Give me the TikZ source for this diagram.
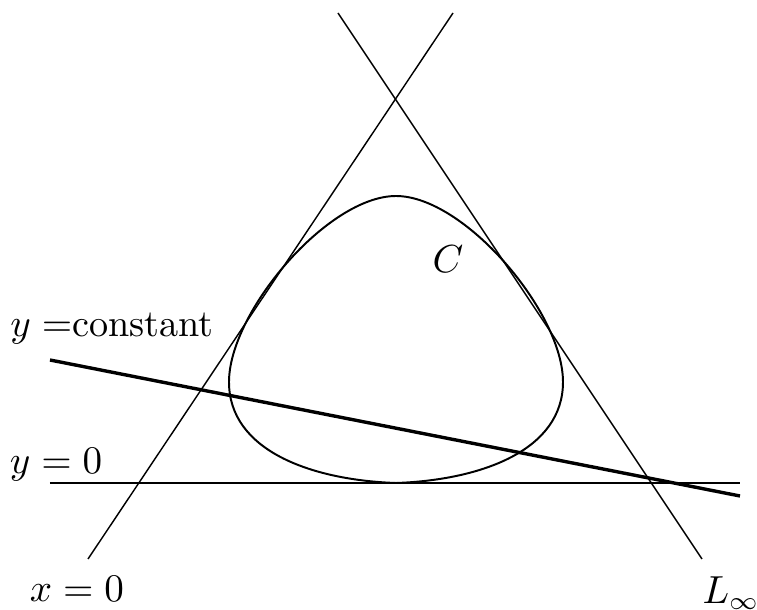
\documentclass[tikz,border=0pt]{standalone}
\usepackage{amsmath,amssymb}
\usepackage{tikz}
\usetikzlibrary{positioning,calc}

\begin{document}
\begin{tikzpicture}[x=0.28pt,y=-0.28pt,
    every node/.style={font=\fontsize{10.7}{13}\selectfont},
    axisline/.style={line width=0.4pt},
    fibreline/.style={line width=0.95pt},
    curveline/.style={line width=0.55pt}]
    \useasboundingbox (0,0) rectangle (757,610);
    % end points of the three lines of the triangle
    \coordinate (xa) at (88,559);
    \coordinate (xb) at (453,13);
    \coordinate (la) at (338,13);
    \coordinate (lb) at (702,559);
    \coordinate (ha) at (50,483);
    \coordinate (hb) at (740,483);
    \coordinate (ka) at (50,360);
    \coordinate (kb) at (740,496);
    \draw[axisline] (xa) -- (xb);
    \draw[axisline] (la) -- (lb);
    \draw[axisline] (ha) -- (hb);
    \draw[fibreline] (ka) -- (kb);
    % the curve C
    \coordinate (cb) at (396,483);
    \coordinate (cl) at (229,382);
    \coordinate (ct) at (396,196);
    \coordinate (cr) at (563,382);
    \draw[curveline] (cb) .. controls (310,480) and (229,450) .. (cl)
      .. controls (229,312) and (328,196) .. (ct)
      .. controls (464,196) and (563,312) .. (cr)
      .. controls (563,450) and (482,480) .. (cb);
    % labels
    \node (lc) at (448,259) {$C$};
    \node (lk) at (112,329) {$y=$constant};
    \node (lh) at (56,465) {$y=0$};
    \node (lx) at (77,589) {$x=0$};
    \node (ll) at (731,593) {$L_\infty$};
\end{tikzpicture}
\end{document}
